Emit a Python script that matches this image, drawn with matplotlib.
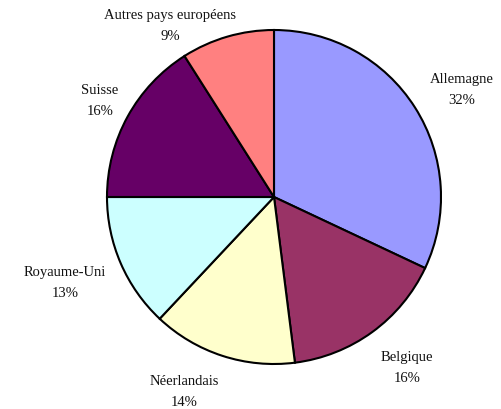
import matplotlib
matplotlib.use("Agg")
import matplotlib.pyplot as plt

categories = ["Allemagne", "Belgique", "Néerlandais", "Royaume-Uni", "Suisse", "Autres pays européens"]
values = [32, 16, 14, 13, 16, 9]
pct_labels = ["32%", "16%", "14%", "13%", "16%", "9%"]
colors = ["#9999FF", "#993366", "#FFFFCC", "#CCFFFF", "#660066", "#FF8080"]

# label block centres (layout, in pixels from top-left)
label_pos = [(462, 90), (407, 368), (184, 392), (65, 283), (100, 101), (170, 26)]

W, H = 501, 409
fig = plt.figure(figsize=(W / 100, H / 100), dpi=100)
ax = fig.add_axes([0, 0, 1, 1])

wedges, _ = ax.pie(values, colors=colors, startangle=90,
                   counterclock=False, center=(274, H - 197), radius=167,
                   frame=True,
                   wedgeprops=dict(edgecolor="black", linewidth=1.5))
ax.set_xlim(0, W)
ax.set_ylim(0, H)
ax.set_aspect("equal")
ax.axis("off")

for (x, y), c, p in zip(label_pos, categories, pct_labels):
    ax.text(x, H - y, f"{c}\n{p}", ha="center", va="center",
            family="Liberation Serif", fontsize=10.5, linespacing=1.75,
            color="#111111")

fig.savefig("out.png", dpi=100)
